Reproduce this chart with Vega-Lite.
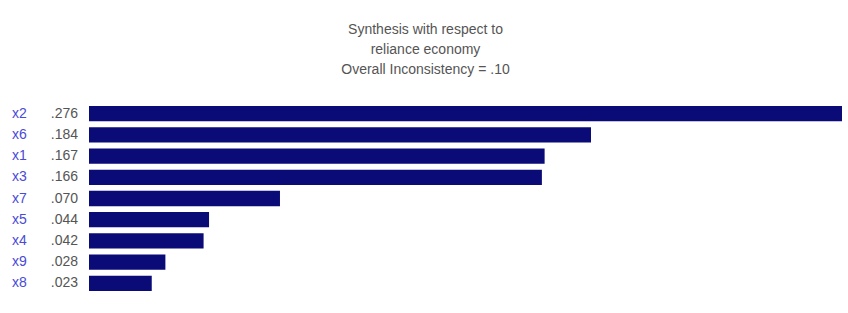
{
  "$schema": "https://vega.github.io/schema/vega-lite/v6.json",
  "autosize": {"type": "none"},
  "width": 753,
  "height": 191,
  "padding": {"left": 89, "top": 103, "right": 6, "bottom": 19},
  "background": "white",
  "title": {
    "text": ["Synthesis with respect to", "reliance economy", "Overall Inconsistency = .10"],
    "anchor": "middle",
    "dx": -40,
    "offset": 26,
    "font": "Liberation Sans",
    "fontSize": 14,
    "fontWeight": "normal",
    "color": "#555555",
    "lineHeight": 20
  },
  "data": {
    "values": [
      {"name": "x2", "value": 0.276, "label": ".276"},
      {"name": "x6", "value": 0.184, "label": ".184"},
      {"name": "x1", "value": 0.167, "label": ".167"},
      {"name": "x3", "value": 0.166, "label": ".166"},
      {"name": "x7", "value": 0.070, "label": ".070"},
      {"name": "x5", "value": 0.044, "label": ".044"},
      {"name": "x4", "value": 0.042, "label": ".042"},
      {"name": "x9", "value": 0.028, "label": ".028"},
      {"name": "x8", "value": 0.023, "label": ".023"}
    ]
  },
  "config": {"view": {"stroke": null}},
  "encoding": {
    "y": {"field": "name", "type": "nominal", "sort": null, "axis": null,
          "scale": {"paddingInner": 0.28, "paddingOuter": 0.14}}
  },
  "layer": [
    {
      "mark": {"type": "bar", "color": "#0b0b78"},
      "encoding": {
        "x": {"field": "value", "type": "quantitative", "axis": null,
              "scale": {"domain": [0, 0.276], "nice": false, "zero": true}}
      }
    },
    {
      "mark": {"type": "text", "align": "right", "dx": -11, "font": "Liberation Sans", "fontSize": 14, "color": "#555555"},
      "encoding": {
        "x": {"datum": 0, "type": "quantitative"},
        "text": {"field": "label"}
      }
    },
    {
      "mark": {"type": "text", "align": "left", "dx": -77, "font": "Liberation Sans", "fontSize": 14, "color": "#4a4ad8"},
      "encoding": {
        "x": {"datum": 0, "type": "quantitative"},
        "text": {"field": "name"}
      }
    }
  ]
}
